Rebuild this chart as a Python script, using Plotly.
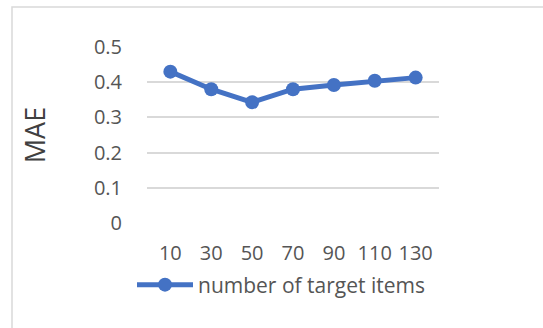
import plotly.graph_objects as go

categories = ["10", "30", "50", "70", "90", "110", "130"]
mae_values = [0.430, 0.380, 0.343, 0.380, 0.392, 0.404, 0.413]
y_ticks = [0, 0.1, 0.2, 0.3, 0.4, 0.5]
y_tick_labels = ["0", "0.1", "0.2", "0.3", "0.4", "0.5"]
series_name = "number of target items"

W, H = 543, 328
L, R, T, B = 147, 439, 47, 222.7

BLUE = "#4472C4"
TXT = "#555555"
GRID = "#D9D9D9"
FONT = "Open Sans"
FS = 20

fig = go.Figure()
fig.add_trace(go.Scatter(
    x=categories, y=mae_values, mode="lines+markers", name=series_name,
    line=dict(color=BLUE, width=5),
    marker=dict(color=BLUE, size=14),
))

fig.update_layout(
    width=W, height=H,
    margin=dict(l=L, r=W - R, t=T, b=H - B, autoexpand=False),
    paper_bgcolor="white", plot_bgcolor="white",
    font=dict(family=FONT, size=FS, color=TXT),
    showlegend=True,
    legend=dict(orientation="h", x=(137 - 5) / W, xanchor="left", xref="container",
                y=(H - 285) / H, yanchor="middle", yref="container",
                font=dict(family=FONT, size=21, color=TXT),
                itemwidth=56, bgcolor="rgba(0,0,0,0)"),
    xaxis=dict(type="category", showgrid=False, showline=False, zeroline=False,
               ticks="", tickfont=dict(size=FS, color=TXT), ticklabelstandoff=16,
               fixedrange=True, automargin=False),
    yaxis=dict(range=[0, 0.5], tickvals=y_ticks, ticktext=y_tick_labels,
               showgrid=True, gridcolor=GRID, gridwidth=1.5, zeroline=False,
               showline=False, ticks="", tickfont=dict(size=FS, color=TXT),
               ticklabelstandoff=24, fixedrange=True, automargin=False,
               title=dict(text="MAE", font=dict(size=27, color="#404040"), standoff=40)),
    shapes=[dict(type="rect", xref="paper", yref="paper",
                 x0=(12 - L) / (R - L), x1=(W + 20 - L) / (R - L),
                 y0=(B - (H + 20)) / (B - T), y1=(B - 7) / (B - T),
                 line=dict(color=GRID, width=1.5), fillcolor="rgba(0,0,0,0)",
                 layer="below")],
)

fig.write_html("out.html")
